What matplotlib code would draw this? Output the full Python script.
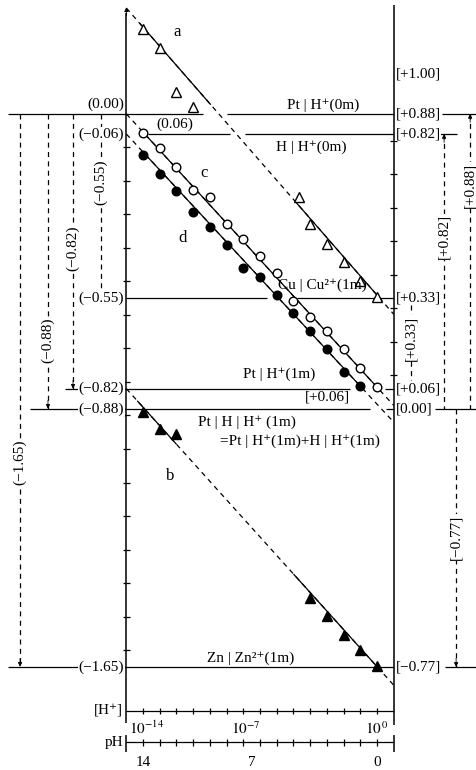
import numpy as np
import matplotlib.pyplot as plt

plt.rcParams['font.family'] = ['Liberation Serif', 'DejaVu Serif']
plt.rcParams['mathtext.fontset'] = 'stix'

# measured points: pH and potential E (V, left scale: vs Pt|H+(0m))
pH_a = [14, 13, 12, 11, 4.7, 4, 3, 2, 1, 0]
E_a = [0.254, 0.197, 0.066, 0.021, -0.248, -0.328, -0.388, -0.442, -0.499, -0.546]
pH_b = [14, 13, 12, 4, 3, 2, 1, 0]
E_b = [-0.890, -0.940, -0.955, -1.445, -1.499, -1.555, -1.600, -1.648]
pH_c = [14, 13, 12, 11, 10, 9, 8, 7, 6, 5, 4, 3, 2, 1, 0]
E_c = [-0.057, -0.101, -0.158, -0.227, -0.248, -0.328, -0.373, -0.424, -0.475,
       -0.558, -0.606, -0.648, -0.701, -0.758, -0.815]
pH_d = [14, 13, 12, 11, 10, 9, 8, 7, 6, 5, 4, 3, 2, 1]
E_d = [-0.122, -0.179, -0.230, -0.293, -0.337, -0.391, -0.460, -0.487, -0.540,
       -0.594, -0.648, -0.701, -0.770, -0.812]

# straight lines: E at pH 15 (left axis) and pH -1 (right axis)
ends_pH = [15, -1]
ends_a = [0.316, -0.598]
ends_b = [-0.82, -1.705]
ends_c = [0.0, -0.87]
ends_d = [-0.06, -0.92]
solid_a = [(14.2, 9.95), (4.9, -0.05)]
solid_b = [(14.35, 12.0), (5.0, 0.0)]
solid_c = [(14, 0)]
solid_d = [(14, 1)]

# levels, left scale (.) and right scale [.]
lev_left = [0.00, -0.06, -0.55, -0.82, -0.88, -1.65]
lab_left = ['(0.00)', '(−0.06)', '(−0.55)', '(−0.82)', '(−0.88)', '(−1.65)']
lev_right = [0.12, 0.00, -0.06, -0.55, -0.82, -0.88, -1.65]
lab_right = ['[+1.00]', '[+0.88]', '[+0.82]', '[+0.33]', '[+0.06]', '[0.00]', '[−0.77]']

pH_ticks = list(range(0, 15))

fig = plt.figure(figsize=(4.77, 7.70), dpi=100)
ax = fig.add_axes([0, 0, 1, 1])
ax.set_xlim(22.56, -5.98)
ax.set_ylim(-1.958, 0.340)
ax.axis('off')

K = 'black'
LW = 0.9
DASH = (4, 3.5)
FS = 11


def dashed(x, y):
    ax.plot(x, y, color=K, lw=LW, dashes=DASH)


def solid(x, y, lw=LW):
    ax.plot(x, y, color=K, lw=lw, solid_capstyle='butt')


def head(x, y, up):
    d = -0.025 if up else 0.025
    ax.annotate('', xy=(x, y), xytext=(x, y + d),
                arrowprops=dict(arrowstyle='-|>', color=K, lw=0.6,
                                mutation_scale=6, shrinkA=0, shrinkB=0))


# axes of the diagram
solid([15, 15], [0.30, -1.818], lw=1.1)
head(15, 0.318, True)
solid([-1, -1], [0.325, -1.824], lw=1.1)
for e in np.arange(-0.1, -1.65, -0.1):
    solid([15.2, 14.8], [e, e])
for v in np.arange(0.1, 0.85, 0.1):
    solid([-0.8, -1.2], [v - 0.88, v - 0.88])

# horizontal levels (pieces)
h_pieces = [
    (0.00, 22.08, 10.4), (0.00, 9.0, -1.0), (0.00, -3.9, -5.98),
    (-0.06, 13.7, 8.8), (-0.06, 7.9, -1.0), (-0.06, -3.47, -4.79),
    (-0.55, 15.0, 6.58), (-0.55, 4.78, -1.0),
    (-0.82, 18.67, 15.0), (-0.82, 15.0, 1.6), (-0.82, -0.48, -1.0),
    (-0.88, 20.76, 15.0), (-0.88, 15.0, 0.42), (-0.88, -0.54, -1.0), (-0.88, -3.47, -5.98),
    (-1.65, 22.08, -1.0), (-1.65, -4.07, -5.98),
]
for e, x0, x1 in h_pieces:
    solid([x0, x1], [e, e])

# fitted lines
for ends, segs in [(ends_a, solid_a), (ends_b, solid_b), (ends_c, solid_c), (ends_d, solid_d)]:
    dashed(ends_pH, ends)
    for s0, s1 in segs:
        xs = [s0, s1]
        solid(xs, np.interp(xs, ends_pH[::-1], ends[::-1]))

# data points
ax.plot(pH_a, E_a, '^', ms=7, mfc='white', mec=K, mew=1.0)
ax.plot(pH_b, E_b, '^', ms=7, mfc=K, mec=K, mew=1.0)
ax.plot(pH_c, E_c, 'o', ms=6.2, mfc='white', mec=K, mew=1.0)
ax.plot(pH_d, E_d, 'o', ms=6.2, mfc=K, mec=K, mew=1.0)

# dimension lines: x, top, bottom, arrow at top?, label, label y
dims = [
    (21.36, 0.0, -1.65, False, '(−1.65)', -1.04),
    (19.69, 0.0, -0.88, False, '(−0.88)', -0.675),
    (18.19, 0.0, -0.82, False, '(−0.82)', -0.40),
    (16.51, 0.0, -0.52, None, '(−0.55)', -0.203),
    (-2.04, -0.57, -0.80, None, '[+0.33]', -0.669),
    (-4.01, -0.06, -0.88, True, '[+0.82]', -0.367),
    (-5.57, 0.0, -0.88, True, '[+0.88]', -0.212),
    (-4.73, -0.88, -1.65, False, '[−0.77]', -1.263),
]
for x, top, bot, up, lab, ly in dims:
    dashed([x, x], [top, bot])
    if up is True:
        head(x, top, True)
    elif up is False:
        head(x, bot, False)
    ax.text(x, ly, lab, rotation=90, ha='center', va='center', fontsize=FS,
            bbox=dict(fc='white', ec='none', pad=0.6))

# level labels
for e, lab in zip(lev_left, lab_left):
    dy = 0.03 if e == 0 else 0.0
    ax.text(15.15, e + dy, lab, ha='right', va='center', fontsize=FS,
            bbox=dict(fc='white', ec='none', pad=0.5))
for e, lab in zip(lev_right, lab_right):
    ax.text(-1.1, e, lab, ha='left', va='center', fontsize=FS,
            bbox=dict(fc='white', ec='none', pad=0.5))

# curve letters and electrode names
ax.text(11.97, 0.245, 'a', ha='center', va='center', fontsize=FS + 1)
ax.text(12.38, -1.081, 'b', ha='center', va='center', fontsize=FS + 1)
ax.text(10.35, -0.176, 'c', ha='center', va='center', fontsize=FS + 1)
ax.text(11.61, -0.370, 'd', ha='center', va='center', fontsize=FS + 1)
ax.text(12.08, -0.030, '(0.06)', ha='center', va='center', fontsize=FS)
ax.text(3.23, 0.027, 'Pt | H⁺(0m)', ha='center', va='center', fontsize=FS)
ax.text(3.95, -0.099, 'H | H⁺(0m)', ha='center', va='center', fontsize=FS)
ax.text(3.29, -0.510, 'Cu | Cu²⁺(1m)', ha='center', va='center', fontsize=FS)
ax.text(5.86, -0.776, 'Pt | H⁺(1m)', ha='center', va='center', fontsize=FS)
ax.text(2.99, -0.845, '[+0.06]', ha='center', va='center', fontsize=FS)
ax.text(7.78, -0.919, 'Pt | H | H⁺ (1m)', ha='center', va='center', fontsize=FS)
ax.text(4.6, -0.976, '=Pt | H⁺(1m)+H | H⁺(1m)', ha='center', va='center', fontsize=FS)
ax.text(7.54, -1.624, 'Zn | Zn²⁺(1m)', ha='center', va='center', fontsize=FS)

# [H+] and pH scales at the bottom
y_h, y_p = -1.782, -1.875
solid([15, -1], [y_h, y_h])
solid([15, -1], [y_p, y_p])
solid([15, 15], [-1.854, -1.904], lw=1.1)
solid([-1, -1], [-1.854, -1.904], lw=1.1)
for p in pH_ticks:
    solid([p, p], [y_h - 0.01, y_h + 0.01])
    solid([p, p], [y_p - 0.01, y_p + 0.01])
ax.text(15.2, y_h, '[H⁺]', ha='right', va='center', fontsize=FS)
ax.text(15.2, y_p, 'pH', ha='right', va='center', fontsize=FS)
ax.text(13.76, -1.835, r'$10^{-14}$', ha='center', va='center', fontsize=FS)
ax.text(7.84, -1.835, r'$10^{-7}$', ha='center', va='center', fontsize=FS)
ax.text(0.0, -1.835, r'$10^{\,0}$', ha='center', va='center', fontsize=FS)
ax.text(14.0, -1.937, '14', ha='center', va='center', fontsize=FS)
ax.text(7.48, -1.937, '7', ha='center', va='center', fontsize=FS)
ax.text(0.0, -1.937, '0', ha='center', va='center', fontsize=FS)

fig.savefig('out.png', dpi=100)
